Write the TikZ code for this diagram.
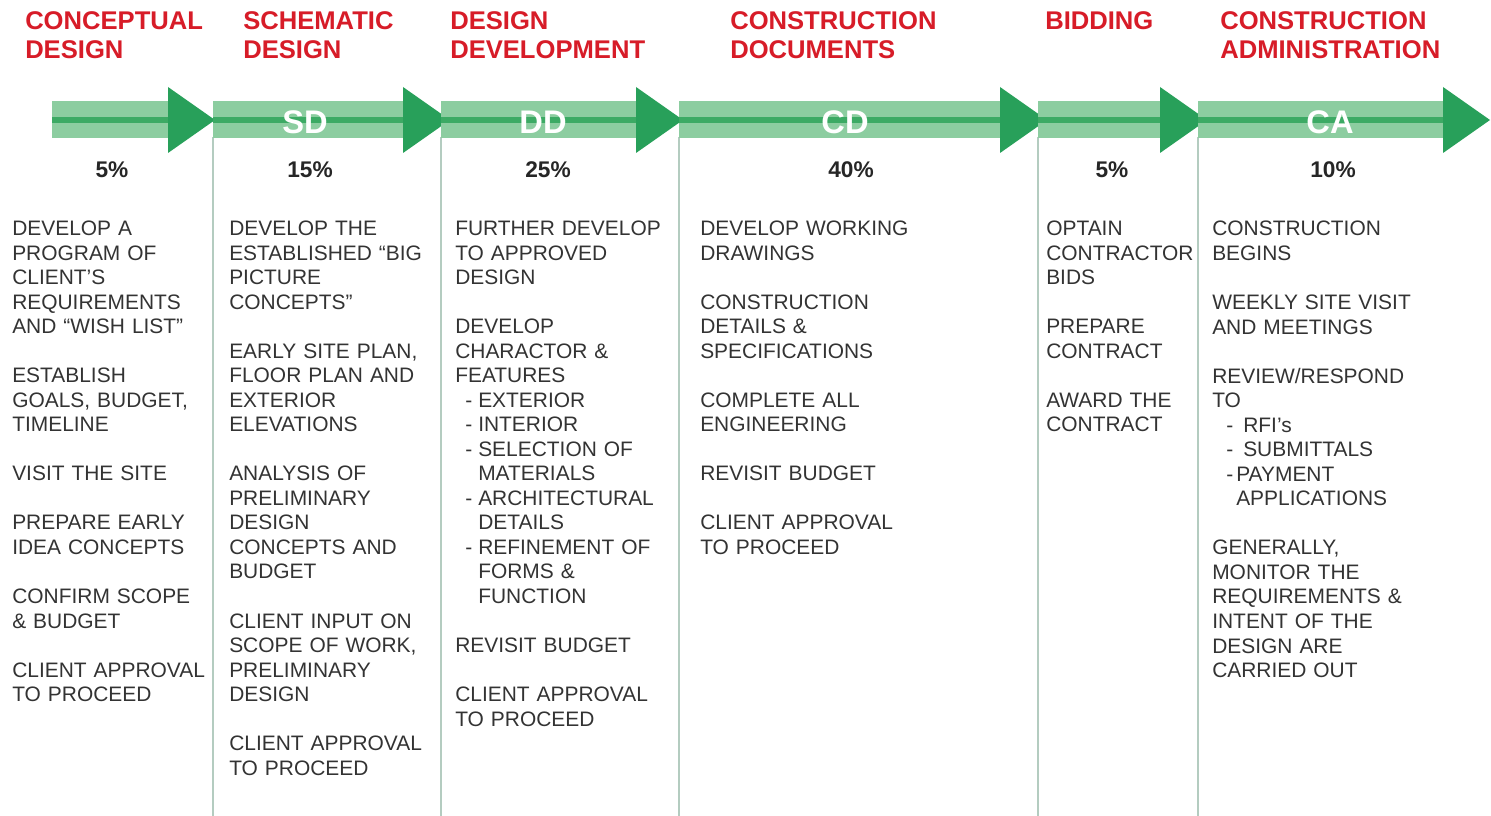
\documentclass[tikz,border=0pt]{standalone}
\usepackage{fontspec}
\setmainfont{Liberation Sans}
\definecolor{titlered}{RGB}{215,28,40}
\definecolor{bandgreen}{RGB}{140,205,160}
\definecolor{headgreen}{RGB}{40,160,90}
\definecolor{linegreen}{RGB}{60,170,100}
\definecolor{dividergray}{RGB}{180,204,192}
\newcommand\dashitem[3]{\hspace*{#1}\makebox[\dimexpr#2-#1\relax][l]{-}#3}
\newcommand\dashcont[2]{\hspace*{#1}#2}
\newcommand\gp{18.4pt}
\begin{document}
\begin{tikzpicture}[x=0.75pt,y=-0.75pt,
  phasetitle/.style={anchor=base west, inner sep=0pt, text=titlered, text width=260pt, align=left,
    font=\fontsize{19.2}{21.75}\selectfont\bfseries},
  bandlabel/.style={inner sep=0pt, text=white, font=\fontsize{24.5}{24.5}\selectfont\bfseries},
  pct/.style={inner sep=0pt, text=black!85, font=\fontsize{17}{17}\selectfont\bfseries},
  coltext/.style={anchor=base west, inner sep=0pt, text=black!80, text width=200pt, align=left,
    font=\fontsize{15.7}{18.4}\selectfont},
  divline/.style={draw=dividergray, line width=0.9pt}
]
\useasboundingbox (0,0) rectangle (1491,816);
\fill[white] (0,0) rectangle (1491,816);

% column dividers
\foreach \x in {213,441,679,1038,1198}
  \draw[divline] (\x,137) -- (\x,816);

% green band with arrowheads
\foreach \a/\b in {52/168, 213/403, 441/636, 679/1000, 1038/1160, 1198/1443} {
  \fill[bandgreen] (\a,101) rectangle (\b+2,138);
  \draw[linegreen, line width=4pt] (\a,120) -- (\b+20,120);
  \fill[headgreen] (\b,87) -- (\b+47,120) -- (\b,153) -- cycle;
}

% titles
\node[phasetitle] (t1) at (25,29.5) {CONCEPTUAL\\DESIGN};
\node[phasetitle] (t2) at (243,29.5) {SCHEMATIC\\DESIGN};
\node[phasetitle] (t3) at (450,29.5) {DESIGN\\DEVELOPMENT};
\node[phasetitle] (t4) at (730,29.5) {CONSTRUCTION\\DOCUMENTS};
\node[phasetitle] (t5) at (1045,29.5) {BIDDING};
\node[phasetitle] (t6) at (1220,29.5) {CONSTRUCTION\\ADMINISTRATION};

% band labels
\node[bandlabel] (sd) at (305,122) {SD};
\node[bandlabel] (dd) at (543,122) {DD};
\node[bandlabel] (cd) at (845,122) {CD};
\node[bandlabel] (ca) at (1330,122) {CA};

% percentages
\node[pct] (p1) at (112,170) {5\%};
\node[pct] (p2) at (310,170) {15\%};
\node[pct] (p3) at (548,170) {25\%};
\node[pct] (p4) at (851,170) {40\%};
\node[pct] (p5) at (1112,170) {5\%};
\node[pct] (p6) at (1333,170) {10\%};

% column texts
\node[coltext] (c1) at (12,235.5) {DEVELOP A\\PROGRAM OF\\CLIENT’S\\REQUIREMENTS\\AND “WISH LIST”\\[\gp]
ESTABLISH\\GOALS, BUDGET,\\TIMELINE\\[\gp]
VISIT THE SITE\\[\gp]
PREPARE EARLY\\IDEA CONCEPTS\\[\gp]
CONFIRM SCOPE\\\& BUDGET\\[\gp]
CLIENT APPROVAL\\TO PROCEED};

\node[coltext] (c2) at (229,235.5) {DEVELOP THE\\ESTABLISHED “BIG\\PICTURE\\CONCEPTS”\\[\gp]
EARLY SITE PLAN,\\FLOOR PLAN AND\\EXTERIOR\\ELEVATIONS\\[\gp]
ANALYSIS OF\\PRELIMINARY\\DESIGN\\CONCEPTS AND\\BUDGET\\[\gp]
CLIENT INPUT ON\\SCOPE OF WORK,\\PRELIMINARY\\DESIGN\\[\gp]
CLIENT APPROVAL\\TO PROCEED};

\node[coltext] (c3) at (455,235.5) {FURTHER DEVELOP\\TO APPROVED\\DESIGN\\[\gp]
DEVELOP\\CHARACTOR \&\\FEATURES\\
\dashitem{7.5pt}{17.25pt}{EXTERIOR}\\
\dashitem{7.5pt}{17.25pt}{INTERIOR}\\
\dashitem{7.5pt}{17.25pt}{SELECTION OF}\\
\dashcont{17.25pt}{MATERIALS}\\
\dashitem{7.5pt}{17.25pt}{ARCHITECTURAL}\\
\dashcont{17.25pt}{DETAILS}\\
\dashitem{7.5pt}{17.25pt}{REFINEMENT OF}\\
\dashcont{17.25pt}{FORMS \&}\\
\dashcont{17.25pt}{FUNCTION}\\[\gp]
REVISIT BUDGET\\[\gp]
CLIENT APPROVAL\\TO PROCEED};

\node[coltext] (c4) at (700,235.5) {DEVELOP WORKING\\DRAWINGS\\[\gp]
CONSTRUCTION\\DETAILS \&\\SPECIFICATIONS\\[\gp]
COMPLETE ALL\\ENGINEERING\\[\gp]
REVISIT BUDGET\\[\gp]
CLIENT APPROVAL\\TO PROCEED};

\node[coltext] (c5) at (1046,235.5) {OPTAIN\\CONTRACTOR\\BIDS\\[\gp]
PREPARE\\CONTRACT\\[\gp]
AWARD THE\\CONTRACT};

\node[coltext] (c6) at (1212,236) {CONSTRUCTION\\BEGINS\\[\gp]
WEEKLY SITE VISIT\\AND MEETINGS\\[\gp]
REVIEW/RESPOND\\TO\\
\dashitem{10.5pt}{23.25pt}{RFI’s}\\
\dashitem{10.5pt}{23.25pt}{SUBMITTALS}\\
\dashitem{10.5pt}{18pt}{PAYMENT}\\
\dashcont{18pt}{APPLICATIONS}\\[\gp]
GENERALLY,\\MONITOR THE\\REQUIREMENTS \&\\INTENT OF THE\\DESIGN ARE\\CARRIED OUT};
\end{tikzpicture}
\end{document}
